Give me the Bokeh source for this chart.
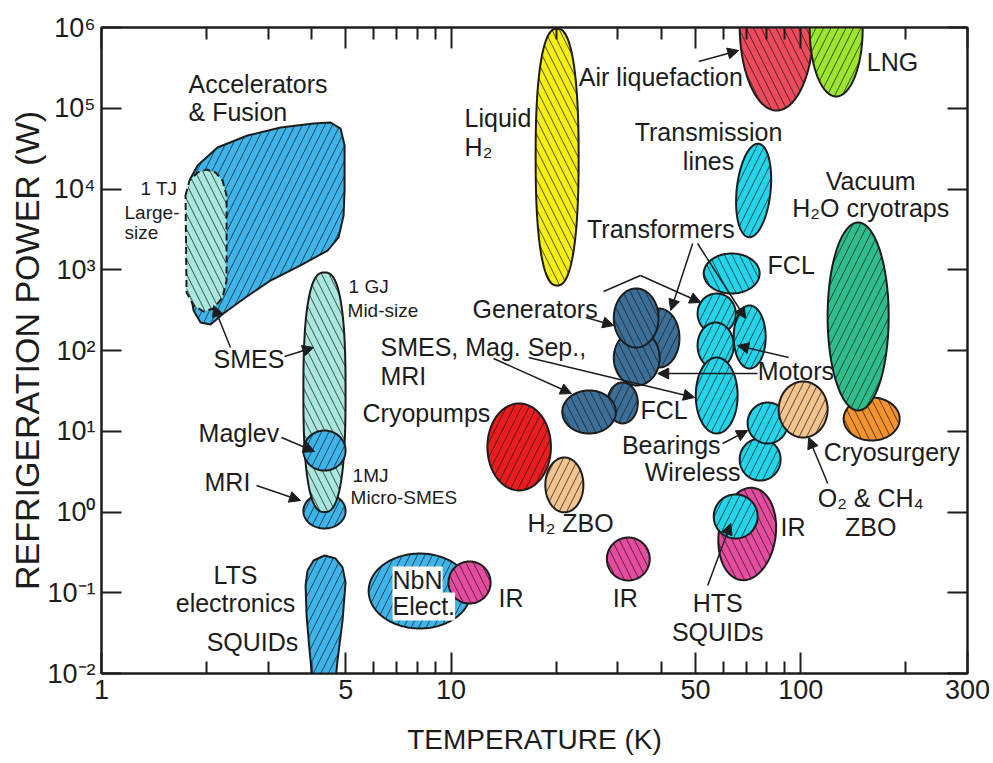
import numpy as np
from bokeh.plotting import figure
from bokeh.models import (FixedTicker, LogAxis, Arrow, NormalHead, Label,
                          ColumnDataSource, Range1d)
from bokeh.core.properties import value
from bokeh.embed import file_html
from bokeh.resources import INLINE

FONT = "Liberation Sans"
INK = "#1c1c1c"

# ---------------- axes ----------------
x_start, x_end = 1, 300
y_start, y_end = 1e-2, 1e6
x_major = [1, 5, 10, 50, 100, 300]
x_major_labels = ["1", "5", "10", "50", "100", "300"]
x_minor = [2, 3, 4, 6, 7, 8, 9, 20, 30, 40, 60, 70, 80, 90, 200]
y_major = [1e-2, 1e-1, 1e0, 1e1, 1e2, 1e3, 1e4, 1e5, 1e6]
y_major_labels = ["10⁻²", "10⁻¹", "10⁰", "10¹", "10²", "10³", "10⁴", "10⁵", "10⁶"]

# ---------------- elliptical regions: temperature range (K), power range (W) ----------------
ell_name = ["MRI", "SMES 1 GJ", "Maglev", "NbN electronics", "IR (10 K)", "Cryopumps",
            "H2 ZBO", "IR (30 K)", "Liquid H2", "Air liquefaction", "LNG",
            "Transmission lines", "LTS transformers", "LTS motors", "LTS generators",
            "LTS FCL", "LTS SMES, Mag. Sep., MRI", "HTS FCL", "HTS transformers / motors",
            "HTS generators", "HTS motors", "HTS SMES, Mag. Sep., MRI", "Cryosurgery",
            "Vacuum H2O cryotraps", "Wireless", "Bearings", "O2 & CH4 ZBO", "IR (70 K)",
            "HTS SQUIDs"]
ell_t_lo = [3.78, 3.78, 3.78, 5.81, 9.83, 12.7, 18.6, 27.9, 17.45, 66.9, 106.1,
            65.6, 34.4, 29.2, 29.2, 28.0, 20.8, 52.8, 64.3, 50.7, 50.7, 50.1, 132.7,
            119.4, 66.9, 70.5, 86.5, 58.3, 56.4]
ell_t_hi = [4.99, 4.99, 4.99, 11.4, 12.97, 19.3, 23.9, 37.0, 23.16, 108.9, 150.4,
            82.0, 45.0, 39.5, 39.2, 34.2, 29.6, 76.3, 79.4, 65.2, 64.3, 66.0, 191.9,
            178.5, 87.6, 91.8, 119.4, 84.8, 75.3]
ell_p_lo = [0.625, 1.0, 3.26, 0.0361, 0.0736, 1.85, 0.99, 0.142, 638, 9.38e4, 1.40e5,
            2510, 61.5, 36.9, 109, 12.5, 9.38, 508, 59.8, 162, 59.8, 9.38, 7.68,
            18.1, 2.45, 7.05, 8.37, 0.142, 0.470]
ell_p_hi = [1.69, 925, 10.2, 0.306, 0.244, 22.1, 4.73, 0.483, 9.7e5, 1.19e7, 6.76e6,
            36600, 331, 177, 586, 40.2, 32.0, 1590, 361, 508, 222, 81.9, 26.2,
            3850, 8.13, 22.7, 41.3, 2.01, 1.65]

# ---------------- free-form regions (temperature K, power W along the outline) ----------------
acc_t = [1.883, 2.147, 2.617, 3.252, 4.042, 4.522, 4.829, 4.958, 4.958, 4.925, 4.765, 4.432,
         3.710, 3.044, 2.582, 2.234, 2.051, 1.920, 1.834, 1.774, 1.751, 1.762, 1.797]
acc_p = [1.95e4, 3.27e4, 4.60e4, 5.78e4, 6.47e4, 6.66e4, 5.61e4, 3.46e4, 9.58e3, 4.70e3,
         2.51e3, 1.73e3, 1.13e3, 736, 453, 287, 210, 222, 313, 736, 2.30e3, 7.21e3, 1.35e4]
tj_t = [1.739, 1.785, 1.883, 1.997, 2.120, 2.220, 2.279, 2.279, 2.220, 2.092, 1.958, 1.834, 1.751]
tj_p = [8.30e3, 1.27e4, 1.60e4, 1.74e4, 1.60e4, 1.27e4, 8.30e3, 736, 453, 331, 304, 361, 523]
lts_t = [3.835, 3.886, 4.042, 4.345, 4.673, 4.892, 4.990, 4.892, 4.733, 4.641, 4.042, 3.937, 3.860]
lts_p = [0.123, 0.189, 0.251, 0.289, 0.265, 0.206, 0.134, 0.0453, 0.01449, 0.00615, 0.00615,
         0.01927, 0.0523]

# ---------------- arrows (from -> to, in K and W) ----------------
arr_t0 = [2.339, 3.338, 3.273, 2.777, 51.1, 49.1, 50.7, 34.8, 24.3, 13.23, 16.66, 75.3, 92.4, 59.8, 119.5, 54.2]
arr_p0 = [109, 84.3, 8.37, 2.13, 3.79e5, 2113, 2113, 849, 256, 79.6, 81.9, 51.9, 81.9, 7.05, 2.25, 0.123]
arr_t1 = [2.092, 4.043, 4.069, 3.710, 66.5, 42.5, 69.6, 51.8, 29.2, 22.1, 49.7, 39.0, 66.0, 70.5, 105.4, 63.1]
arr_p1 = [361, 109, 5.61, 1.387, 5.19e5, 313, 249, 393, 204, 29.3, 26.2, 51.9, 115, 10.2, 8.37, 0.721]
bracket_t = [27.3, 34.8]
bracket_p = [538, 849]

# ---------------- labels ----------------
lab_left = ["Accelerators", "& Fusion", "SMES", "Maglev", "MRI", "IR", "IR", "H₂ ZBO",
            "Cryopumps", "SMES, Mag. Sep.,", "MRI", "Generators", "Liquid", "H₂",
            "Air liquefaction", "LNG", "FCL", "Motors", "FCL", "Cryosurgery", "IR"]
lab_left_t = [1.774, 1.774, 2.092, 1.895, 1.971, 13.67, 29.0, 16.55, 5.58, 6.28, 6.28, 11.52,
              10.93, 10.93, 23.2, 154.5, 80.4, 75.3, 34.8, 116.4, 87.6]
lab_left_p = [1.97e5, 8.86e4, 77.4, 9.64, 2.32, 0.0849, 0.0849, 0.721, 16.6, 109, 49.0, 331,
              7.47e4, 3.27e4, 2.47e5, 3.79e5, 1130, 55.0, 18.1, 5.61, 0.661]
lab_center = ["LTS", "electronics", "SQUIDs", "Transmission", "lines", "Vacuum", "H₂O cryotraps",
              "Transformers", "O₂ & CH₄", "ZBO", "HTS", "SQUIDs"]
lab_center_t = [2.417, 2.417, 2.704, 54.5, 54.5, 158.6, 158.6, 39.8, 158.6, 158.6, 57.9, 57.9]
lab_center_p = [0.164, 0.0736, 0.0249, 5.15e4, 2.25e4, 1.27e4, 5.90e3, 3.24e3, 1.47, 0.643, 0.0757, 0.0322]
lab_right = ["Bearings", "Wireless"]
lab_right_t = [59.0, 67.3]
lab_right_p = [6.85, 3.17]
lab_small = ["1 TJ", "Large-", "size", "1 GJ", "Mid-size", "1MJ", "Micro-SMES"]
lab_small_t = [1.293, 1.164, 1.164, 5.089, 5.056, 5.226, 5.158]
lab_small_p = [1.01e4, 5.12e3, 2.89e3, 621, 313, 2.83, 1.51]
lab_box = ["NbN", "Elect."]
lab_box_t = [6.80, 6.80]
lab_box_p = [0.142, 0.0676]
file_tag = "asc3ca1a.cdr"

# ---------------- styles ----------------
BLUE, LIGHT, CYAN, DARK = "#3DB5EA", "#A9E7DF", "#22D5EA", "#3C6F98"
YELLOW, AIR, LNGG, VAC = "#F8EF12", "#EE4A5C", "#9DE62E", "#2DBE8B"
ORANGE, PEACH, RED, MAGENTA = "#F5922C", "#F5C48E", "#EC1B1E", "#E54B9F"
ell_fill = [BLUE, LIGHT, BLUE, BLUE, MAGENTA, RED, PEACH, MAGENTA, YELLOW, AIR, LNGG,
            CYAN, DARK, DARK, DARK, DARK, DARK, CYAN, CYAN, CYAN, CYAN, CYAN, ORANGE,
            VAC, CYAN, CYAN, PEACH, MAGENTA, CYAN]
ell_hatch = ["/", "\\", "/", "/", "\\", "/", "/", "\\", "\\", "\\", "/",
             "/", "/", "\\", "\\", "/", "\\", "\\", "/", "/", "/", "/", "\\",
             "/", "/", "/", "/", "\\", "/"]
ell_tilt = [0] * len(ell_name)
ell_tilt[ell_name.index("Transmission lines")] = 6
ell_tilt[ell_name.index("IR (70 K)")] = 8
ell_power = [2.0] * len(ell_name)
ell_power[ell_name.index("SMES 1 GJ")] = 2.6
ell_power[ell_name.index("Liquid H2")] = 2.4

FRAME_W, FRAME_H = 866, 646
KX = FRAME_W / np.log10(x_end / x_start)
KY = FRAME_H / np.log10(y_end / y_start)


def ellipse_outline(tlo, thi, plo, phi, tilt=0.0, power=2.0, npts=160):
    u0, u1 = np.log10(tlo) * KX, np.log10(thi) * KX
    v0, v1 = np.log10(plo) * KY, np.log10(phi) * KY
    cu, cv, a, b = (u0 + u1) / 2, (v0 + v1) / 2, (u1 - u0) / 2, (v1 - v0) / 2
    th = np.linspace(0, 2 * np.pi, npts, endpoint=False)
    c, s = np.cos(th), np.sin(th)
    eu = a * np.sign(c) * np.abs(c) ** (2 / power)
    ev = b * np.sign(s) * np.abs(s) ** (2 / power)
    ang = -np.radians(tilt)
    ru = eu * np.cos(ang) - ev * np.sin(ang)
    rv = eu * np.sin(ang) + ev * np.cos(ang)
    return list(10 ** ((cu + ru) / KX)), list(10 ** ((cv + rv) / KY))


p = figure(x_axis_type="log", y_axis_type="log",
           x_range=Range1d(x_start, x_end), y_range=Range1d(y_start, y_end),
           frame_width=FRAME_W, frame_height=FRAME_H,
           min_border_left=101, min_border_right=24, min_border_top=27, min_border_bottom=90,
           output_backend="svg", toolbar_location=None,
           background_fill_color="white", border_fill_color="white")
p.grid.visible = False
p.outline_line_color = INK
p.outline_line_width = 2

HATCH = dict(hatch_color="#1a1a1a", hatch_alpha=0.75, hatch_weight=1.0, hatch_scale=15)

# free-form shapes
p.patch(acc_t, acc_p, fill_color=BLUE, hatch_pattern="/", line_color=INK, line_width=2, **HATCH)
p.patch(tj_t, tj_p, fill_color=LIGHT, hatch_pattern="\\", line_color=INK, line_width=2,
        line_dash="7 4", **HATCH)
p.patch(lts_t, lts_p, fill_color=BLUE, hatch_pattern="/", line_color=INK, line_width=2, **HATCH)

for i in range(len(ell_name)):
    xs, ys = ellipse_outline(ell_t_lo[i], ell_t_hi[i], ell_p_lo[i], ell_p_hi[i],
                             ell_tilt[i], ell_power[i])
    p.patch(xs, ys, fill_color=ell_fill[i], hatch_pattern=ell_hatch[i],
            line_color=INK, line_width=2, **HATCH)

# arrows and connector lines
p.line(bracket_t, bracket_p, line_color=INK, line_width=1.5)
for i in range(len(arr_t0)):
    p.add_layout(Arrow(end=NormalHead(size=11, fill_color=INK, line_color=INK, line_width=1),
                       x_start=arr_t0[i], y_start=arr_p0[i], x_end=arr_t1[i], y_end=arr_p1[i],
                       line_color=INK, line_width=1.5))

# texts
def add_text(txt, tt, pp, align, size):
    src = ColumnDataSource(dict(t=tt, p=pp, s=txt))
    p.text(x="t", y="p", text="s", source=src, text_font=value(FONT),
           text_font_size=value(size), text_align=value(align),
           text_baseline=value("middle"), text_color=INK)

add_text(lab_left, lab_left_t, lab_left_p, "left", "25px")
add_text(lab_center, lab_center_t, lab_center_p, "center", "25px")
add_text(lab_right, lab_right_t, lab_right_p, "right", "25px")
add_text(lab_small, lab_small_t, lab_small_p, "left", "19px")
for s, tt, pp in zip(lab_box, lab_box_t, lab_box_p):
    p.add_layout(Label(x=tt, y=pp, text=s, text_font=FONT, text_font_size="25px",
                       text_align="left", text_baseline="middle", text_color=INK,
                       background_fill_color="white"))

# axes
def style_axis(ax, ticks, minor, labels, tick_in, minor_in, label_size):
    ax.ticker = FixedTicker(ticks=ticks, minor_ticks=minor)
    ax.major_label_overrides = {t: s for t, s in zip(ticks, labels)}
    ax.axis_line_width = 2
    ax.axis_line_color = INK
    ax.major_tick_in = tick_in
    ax.major_tick_out = 0
    ax.minor_tick_in = minor_in
    ax.minor_tick_out = 0
    ax.major_tick_line_width = 2
    ax.minor_tick_line_width = 2
    ax.major_tick_line_color = INK
    ax.minor_tick_line_color = INK if minor else None
    ax.major_label_text_font = FONT
    ax.major_label_text_font_size = label_size
    ax.major_label_text_color = INK

xa = p.xaxis[0]
style_axis(xa, x_major, x_minor, x_major_labels, 21, 12, "27px")
xa.major_label_standoff = 6
xa.axis_label = "TEMPERATURE (K)"
xa.axis_label_text_font = FONT
xa.axis_label_text_font_size = "28px"
xa.axis_label_text_font_style = "normal"
xa.axis_label_text_color = INK
xa.axis_label_standoff = 22

ya = p.yaxis[0]
style_axis(ya, y_major, [], y_major_labels, 20, 0, "27px")
ya.major_label_standoff = 6
ya.axis_label = "REFRIGERATION POWER (W)"
ya.axis_label_text_font = FONT
ya.axis_label_text_font_size = "34px"
ya.axis_label_text_font_style = "normal"
ya.axis_label_text_color = INK
ya.axis_label_standoff = -2

top = LogAxis()
style_axis(top, x_major, x_minor, [""] * len(x_major), 21, 12, "1px")
p.add_layout(top, "above")
right = LogAxis()
style_axis(right, y_major, [], [""] * len(y_major), 20, 0, "1px")
p.add_layout(right, "right")

# small file tag in the lower-right corner (frame-relative screen pixels)
p.add_layout(Label(x=884, y=-79, x_units="screen", y_units="screen", text=file_tag,
                   text_font=FONT, text_font_size="12px", text_align="right",
                   text_baseline="middle", text_color="#222222"))

open("out.html", "w").write(file_html(p, INLINE))
